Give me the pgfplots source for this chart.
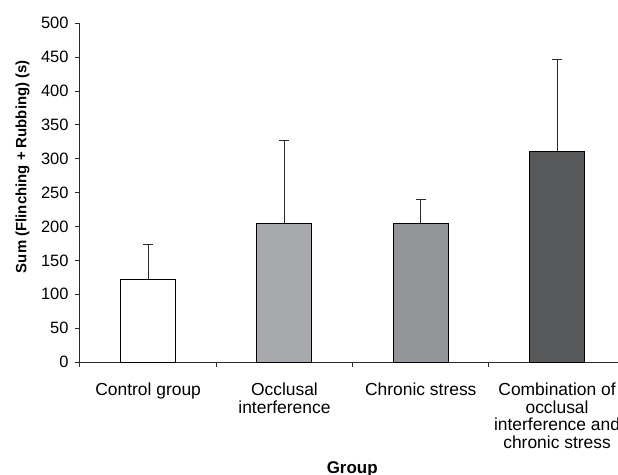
\documentclass[border=0pt]{standalone}
\usepackage{fontspec}
\setmainfont{Liberation Sans}
\usepackage{pgfplots}
\pgfplotsset{compat=1.18}
\usetikzlibrary{calc}
\definecolor{cocc}{HTML}{A7A9AC}
\definecolor{cchr}{HTML}{939598}
\definecolor{ccomb}{HTML}{58595B}
\definecolor{axc}{HTML}{2B2B2B}
\pgfplotsset{
  mybar/.style={ybar, bar shift=0pt, draw=black, line width=1bp,
    error bars/y dir=plus, error bars/y explicit, error bars/error mark=-,
    error bars/error mark options={rotate=90, mark size=5bp, line width=1bp, draw=axc},
    error bars/error bar style={line width=1bp, draw=axc}},
}
\begin{document}
\begin{tikzpicture}
\begin{axis}[
  x=136.3bp, y=0.6774bp,
  xmin=-0.5, xmax=3.447, ymin=0, ymax=500,
  axis x line*=bottom, axis y line*=left,
  axis line style={line width=1bp, axc},
  ytick={0,50,...,500},
  xtick={0,1,2,3},
  major x tick style={draw=none},
  minor xtick={-0.5,0.5,1.5,2.5},
  tick align=outside,
  major tick length=5bp, minor tick length=5bp,
  every tick/.style={line width=1bp, axc},
  xticklabels={Control group, Occlusal\\interference, Chronic stress, Combination of\\occlusal\\interference and\\chronic stress},
  xticklabel style={align=center, font=\fontsize{17.5}{17.6}\selectfont, anchor=north, inner sep=0pt, yshift=-16bp},
  yticklabel style={font=\fontsize{16.5}{18}\selectfont, xshift=-3bp},
  /pgf/number format/assume math mode=true,
  ylabel={Sum (Flinching + Rubbing) (s)},
  ylabel style={at={(axis description cs:-0.107,0.577)}, anchor=center, font=\bfseries\fontsize{15}{18}\selectfont},
  xlabel={Group},
  xlabel style={at={(axis description cs:0.506,0)}, anchor=base, yshift=-111bp, font=\bfseries\fontsize{17}{18}\selectfont},
  clip=false,
  bar width=55bp,
]
\addplot[mybar, fill=white] coordinates {(0,122) +- (0,52)};
\addplot[mybar, fill=cocc] coordinates {(1,205) +- (0,122)};
\addplot[mybar, fill=cchr] coordinates {(2,205) +- (0,35)};
\addplot[mybar, fill=ccomb] coordinates {(3,311) +- (0,136)};
\coordinate (O) at (axis cs:-0.5,0);
\end{axis}
\pgfresetboundingbox
\path[use as bounding box] ($(O)+(-80bp,-113bp)$) rectangle ($(O)+(538bp,362bp)$);
\end{tikzpicture}
\end{document}
